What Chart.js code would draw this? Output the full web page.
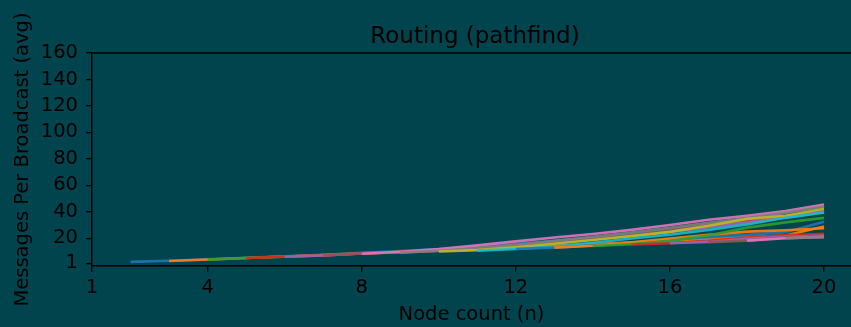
<!DOCTYPE html>
<html>
<head>
<meta charset="utf-8">
<script src="https://cdn.jsdelivr.net/npm/chart.js@4.4.1/dist/chart.umd.min.js"></script>
<style>
  html, body { margin: 0; padding: 0; background: #01444e; }
  #wrap { width: 851px; height: 327px; position: relative; }
</style>
</head>
<body>
<div id="wrap"><canvas id="c" width="851" height="327"></canvas></div>
<script>
// ---- data ----
const chartTitle = 'Routing (pathfind)';
const xLabel = 'Node count (n)';
const yLabel = 'Messages Per Broadcast (avg)';
const xTicks = [1, 4, 8, 12, 16, 20];
const yTicks = [1, 20, 40, 60, 80, 100, 120, 140, 160];
// first node count of each run (series k starts at seriesStart[k] and ends at 20)
const seriesStart = [2, 3, 4, 5, 6, 7, 8, 9, 10, 11, 12, 13, 14, 15, 16, 17, 18, 19];
const s00 = [2.1, 3.0, 4.0, 5.2, 6.3, 7.4, 8.9, 10.3, 11.8, 13.6, 15.8, 18.1, 20.4, 23.0, 26.2, 29.5, 33.0, 36.5, 40.5];
const s01 = [2.8, 3.9, 5.1, 6.2, 7.2, 8.6, 9.6, 10.6, 11.8, 13.0, 14.2, 15.5, 16.8, 18.0, 19.4, 20.8, 22.0, 28.8];
const s02 = [3.8, 5.0, 6.1, 7.1, 8.6, 9.7, 10.9, 12.6, 14.8, 17.2, 19.6, 22.2, 25.0, 28.3, 32.0, 35.6, 39.5];
const s03 = [5.0, 6.1, 7.0, 8.5, 9.5, 10.8, 12.4, 14.6, 17.0, 19.4, 22.0, 24.8, 28.3, 33.5, 36.7, 40.0];
const s04 = [6.0, 7.0, 8.5, 9.4, 10.6, 12.2, 14.4, 16.8, 19.2, 21.8, 24.8, 28.4, 32.0, 35.8, 40.5];
const s05 = [6.9, 8.4, 9.3, 10.5, 12.0, 14.0, 16.6, 19.3, 22.4, 26.2, 30.4, 34.5, 39.0, 44.5];
const s06 = [8.3, 9.8, 11.8, 14.6, 17.6, 20.6, 23.2, 26.3, 30.0, 33.9, 36.9, 40.5, 45.5];
const s07 = [9.1, 10.5, 12.4, 15.0, 18.0, 21.0, 24.2, 27.8, 31.6, 35.2, 39.2, 44.0];
const s08 = [10.0, 11.0, 13.2, 15.8, 18.6, 21.6, 24.8, 29.4, 34.6, 37.0, 42.3];
const s09 = [10.6, 11.9, 13.8, 16.6, 19.8, 22.6, 26.3, 30.4, 35.4, 39.5];
const s10 = [11.8, 12.9, 14.6, 16.6, 18.8, 20.8, 22.5, 24.6, 32.4];
const s11 = [12.9, 14.3, 17.0, 19.8, 22.5, 25.0, 26.0, 27.5];
const s12 = [14.1, 15.4, 18.0, 22.0, 28.0, 32.0, 35.4];
const s13 = [15.2, 16.2, 18.0, 20.5, 22.3, 23.3];
const s14 = [16.2, 17.2, 19.5, 21.0, 22.0];
const s15 = [17.0, 18.2, 20.5, 21.5];
const s16 = [18.2, 20.0, 21.0];
const s17 = [20.0, 20.8];
const seriesValues = [s00, s01, s02, s03, s04, s05, s06, s07, s08, s09, s10, s11, s12, s13, s14, s15, s16, s17];

// ---- style ----
const palette = ['#1f77b4', '#ff7f0e', '#2ca02c', '#d62728', '#9467bd',
                 '#8c564b', '#e377c2', '#7f7f7f', '#bcbd22', '#17becf'];
function withAlpha(hex, a) {
  const r = parseInt(hex.slice(1, 3), 16), g = parseInt(hex.slice(3, 5), 16), b = parseInt(hex.slice(5, 7), 16);
  return `rgba(${r},${g},${b},${a})`;
}
const BG = '#01444e';
const INK = '#000000';
const FONT = 'DejaVu Sans';

const datasets = seriesValues.map((vals, k) => ({
  label: 'n0=' + seriesStart[k],
  data: vals.map((v, i) => ({ x: seriesStart[k] + i, y: v })),
  borderColor: withAlpha(palette[k % palette.length], 0.9),
  backgroundColor: withAlpha(palette[k % palette.length], 0.9),
  borderWidth: 2.6,
  pointRadius: 0,
  tension: 0,
  fill: false,
  order: seriesValues.length - k   // later runs drawn on top
}));

const bgPlugin = {
  id: 'bg',
  beforeDraw(chart) {
    const ctx = chart.ctx;
    ctx.save();
    ctx.fillStyle = BG;
    ctx.fillRect(0, 0, chart.width, chart.height);
    ctx.restore();
  },
  afterDraw(chart) {
    const ctx = chart.ctx;
    const a = chart.chartArea;
    ctx.save();
    // top spine
    ctx.strokeStyle = INK;
    ctx.lineWidth = 1.5;
    ctx.beginPath();
    ctx.moveTo(a.left - 0.75, a.top);
    ctx.lineTo(chart.width, a.top);
    ctx.stroke();
    // title
    ctx.fillStyle = INK;
    ctx.font = '23px "' + FONT + '"';
    ctx.textAlign = 'center';
    ctx.textBaseline = 'alphabetic';
    ctx.fillText(chartTitle, 475, 43);
    ctx.restore();
  }
};

new Chart(document.getElementById('c'), {
  type: 'line',
  data: { datasets },
  options: {
    responsive: false,
    animation: false,
    layout: { padding: { top: 53, left: 0, right: 0, bottom: 0 } },
    plugins: { legend: { display: false }, title: { display: false }, tooltip: { enabled: false } },
    scales: {
      x: {
        type: 'linear',
        min: 1,
        max: 20.7,
        afterFit(s) { s.height = 61; },
        afterBuildTicks(s) { s.ticks = xTicks.map(v => ({ value: v })); },
        grid: { display: true, drawOnChartArea: false, drawTicks: true, tickLength: 6, color: INK, lineWidth: 1.3 },
        border: { display: true, color: INK, width: 1.5 },
        ticks: { color: INK, font: { family: FONT, size: 19.5 }, padding: 4, maxRotation: 0, autoSkip: false },
        title: { display: true, text: xLabel, color: INK, font: { family: FONT, size: 19.5 }, padding: { top: 0, bottom: 0 } }
      },
      y: {
        type: 'linear',
        min: -1,
        max: 160,
        afterFit(s) { s.width = 92; },
        afterBuildTicks(s) { s.ticks = yTicks.map(v => ({ value: v })); },
        grid: { display: true, drawOnChartArea: false, drawTicks: true, tickLength: 6, color: INK, lineWidth: 1.3 },
        border: { display: true, color: INK, width: 1.5 },
        ticks: { color: INK, font: { family: FONT, size: 19.5 }, padding: 8, autoSkip: false },
        title: { display: true, text: yLabel, color: INK, font: { family: FONT, size: 19.5 }, padding: { top: 11, bottom: 0 } }
      }
    }
  },
  plugins: [bgPlugin]
});
</script>
</body>
</html>
